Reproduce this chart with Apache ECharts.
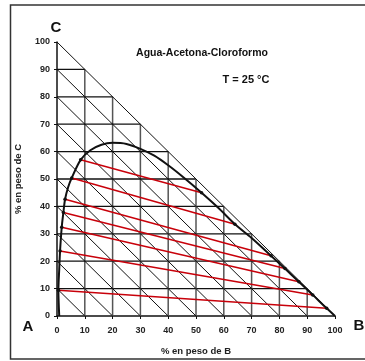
<!DOCTYPE html>
<html>
<head>
<meta charset="utf-8">
<script src="https://cdn.jsdelivr.net/npm/echarts@6/dist/echarts.min.js"></script>
<style>
	html, body { margin: 0; padding: 0; background: #fff; }
	#chart { width: 365px; height: 361px; }
</style>
</head>
<body>
<div id="chart"></div>
<script>
// grid steps of the triangle (% by weight)
const gridSteps = [10, 20, 30, 40, 50, 60, 70, 80, 90];
const diagSteps = [10, 20, 30, 40, 50, 60, 70, 80, 90, 100];

// binodal curve, % B (x) and % C (y)
const curveB = [0.8, 0.6, 0.5, 0.8, 1.1, 1.7, 2.3, 2.9, 4.0, 5.3, 8.5, 12, 16, 20, 25, 30, 35, 40, 45, 52, 58, 64, 70, 77, 82, 87, 92, 97, 100];
const curveC = [0, 5, 9.4, 17, 23.7, 32.4, 37.8, 42.6, 47, 50.4, 57, 60.5, 62.5, 63.2, 62.8, 61, 58.5, 55, 51, 45, 39.5, 33.5, 28.5, 22, 17.3, 12.5, 7.7, 2.8, 0];

// tie lines: water-rich end and chloroform-rich end
const tieLeftB = [0.5, 1.1, 1.7, 2.3, 2.9, 5.3, 8.5];
const tieLeftC = [9.4, 23.7, 32.4, 37.8, 42.6, 50.4, 57];
const tieRightB = [97, 92, 87, 82, 77, 64, 52];
const tieRightC = [2.8, 7.7, 12.5, 17.3, 22, 33.5, 45];

const font = 'Liberation Sans';
const series = [];

// horizontal and vertical grid lines cut by the hypotenuse
gridSteps.forEach(v => {
	series.push({
		type: 'line', data: [[0, v], [100 - v, v]], symbol: 'none', silent: true,
		lineStyle: { color: '#111', width: 1.3 }
	});
	series.push({
		type: 'line', data: [[v, 0], [v, 100 - v]], symbol: 'none', silent: true,
		lineStyle: { color: '#555', width: 1.5 }
	});
});
// diagonals x + y = const
diagSteps.forEach(v => {
	series.push({
		type: 'line', data: [[0, v], [v, 0]], symbol: 'none', silent: true,
		lineStyle: { color: '#111', width: 1 }
	});
});
// tie lines
tieLeftB.forEach((b, i) => {
	series.push({
		type: 'line', data: [[b, tieLeftC[i]], [tieRightB[i], tieRightC[i]]],
		symbol: 'circle', symbolSize: 3.5, silent: true,
		itemStyle: { color: '#111' },
		lineStyle: { color: '#c8000a', width: 1.5 }
	});
});
// binodal curve
series.push({
	type: 'line', data: curveB.map((b, i) => [b, curveC[i]]), smooth: 0.3,
	symbol: 'none', silent: true, lineStyle: { color: '#111', width: 2 }
});

const chart = echarts.init(document.getElementById('chart'));
chart.setOption({
	animation: false,
	grid: { left: 57, right: 30, top: 42, bottom: 41 },
	xAxis: {
		type: 'value', min: 0, max: 100, interval: 10,
		name: '% en peso de B', nameLocation: 'middle', nameGap: 30,
		nameTextStyle: { fontFamily: font, fontSize: 9.5, fontWeight: 'bold', color: '#222' },
		axisLine: { lineStyle: { color: '#111', width: 1.5 } },
		axisTick: { show: true, length: 3, lineStyle: { color: '#111' } },
		axisLabel: { fontFamily: font, fontSize: 9, fontWeight: 'bold', color: '#222', margin: 10 },
		splitLine: { show: false }
	},
	yAxis: {
		type: 'value', min: 0, max: 100, interval: 10,
		name: '% en peso de C', nameLocation: 'middle', nameGap: 34, nameRotate: 90,
		nameTextStyle: { fontFamily: font, fontSize: 9.5, fontWeight: 'bold', color: '#222' },
		axisLine: { lineStyle: { color: '#111', width: 1.5 } },
		axisTick: { show: true, length: 3, lineStyle: { color: '#111' } },
		axisLabel: { fontFamily: font, fontSize: 9, fontWeight: 'bold', color: '#222', margin: 7 },
		splitLine: { show: false }
	},
	graphic: [
		// page frame, its right side runs off the picture
		{ type: 'rect', shape: { x: 10.5, y: 5, width: 400, height: 354 }, style: { fill: 'none', stroke: '#333', lineWidth: 1.5 }, silent: true },
		{ type: 'text', x: 202, y: 53, style: { text: 'Agua-Acetona-Cloroformo', font: 'bold 10.5px ' + font, fill: '#111', align: 'center', verticalAlign: 'middle' } },
		{ type: 'text', x: 246, y: 80, style: { text: 'T = 25 °C', font: 'bold 11px ' + font, fill: '#111', align: 'center', verticalAlign: 'middle' } },
		{ type: 'text', x: 56, y: 28, style: { text: 'C', font: 'bold 15px ' + font, fill: '#111', align: 'center', verticalAlign: 'middle' } },
		{ type: 'text', x: 28, y: 327, style: { text: 'A', font: 'bold 15px ' + font, fill: '#111', align: 'center', verticalAlign: 'middle' } },
		{ type: 'text', x: 359, y: 326, style: { text: 'B', font: 'bold 15px ' + font, fill: '#111', align: 'center', verticalAlign: 'middle' } }
	],
	series: series
});
</script>
</body>
</html>
